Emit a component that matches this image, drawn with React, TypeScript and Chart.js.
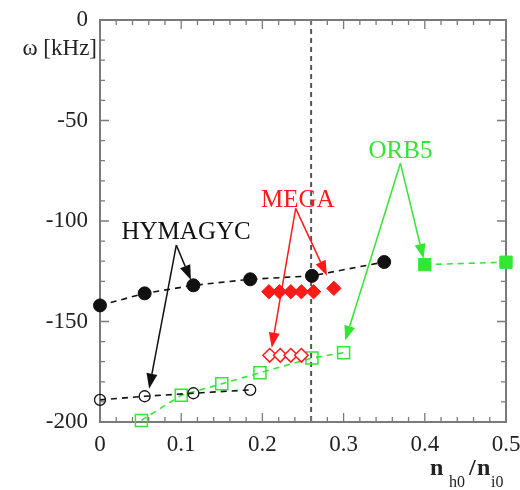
import React, { useEffect, useRef } from "react";
import { Chart, registerables } from "chart.js";

Chart.register(...registerables);

// ---------- data ----------
const xTickValues = [0, 0.1, 0.2, 0.3, 0.4, 0.5];
const yTickValues = [-200, -150, -100, -50, 0];

const hymFilledX = [0, 0.055, 0.115, 0.185, 0.261, 0.35];
const hymFilledY = [-142, -136, -132, -129, -127.3, -120.4];
const hymOpenX = [0, 0.055, 0.115, 0.185];
const hymOpenY = [-189, -187.2, -185.7, -184];

const megaFilledX = [0.208, 0.221, 0.235, 0.248, 0.263, 0.288];
const megaFilledY = [-135.2, -135.2, -135.2, -135.2, -135.2, -133.5];
const megaOpenX = [0.209, 0.222, 0.235, 0.248];
const megaOpenY = [-166.8, -166.8, -166.8, -166.8];

const orbOpenX = [0.051, 0.1, 0.15, 0.197, 0.261, 0.3];
const orbOpenY = [-199.2, -186.7, -181, -175.5, -168.2, -165.5];
const orbFilledX = [0.4, 0.5];
const orbFilledY = [-121.7, -120.5];

const refLineX = 0.26;

const BLACK = "#111111";
const RED = "#ff1a1a";
const GREEN = "#33e633";

const annotations = [
  { label: "HYMAGYC", color: BLACK, tx: 0.106, ty: -105.5, fx: 0.094, fy: -112, tips: [[0.112, -129.4], [0.0605, -183.4]] },
  { label: "MEGA", color: RED, tx: 0.2435, ty: -89.6, fx: 0.241, fy: -93.7, tips: [[0.2115, -163.0], [0.2795, -127.2]] },
  { label: "ORB5", color: GREEN, tx: 0.37, ty: -65.5, fx: 0.37, fy: -71.3, tips: [[0.3985, -118.8], [0.302, -159.5]] },
];

const SERIF = '"Liberation Serif", "Times New Roman", serif';

function pts(xs: number[], ys: number[]) {
  return xs.map((x, i) => ({ x, y: ys[i] }));
}

const overlay = {
  id: "overlay",
  beforeDatasetsDraw(chart: any) {
    const { ctx, chartArea: a, scales } = chart;
    const xs = scales.x;
    const ys = scales.y;
    ctx.save();
    // reference dashed line
    const vx = xs.getPixelForValue(refLineX);
    ctx.strokeStyle = "#555";
    ctx.lineWidth = 2;
    ctx.setLineDash([5, 4]);
    ctx.beginPath();
    ctx.moveTo(vx, a.top);
    ctx.lineTo(vx, a.bottom);
    ctx.stroke();
    ctx.setLineDash([]);

    // inward ticks
    ctx.strokeStyle = "#7a7a7a";
    ctx.lineWidth = 1.3;
    ctx.beginPath();
    for (let i = 0; i <= 25; i++) {
      const v = i * 0.02;
      const p = xs.getPixelForValue(v);
      const len = i % 5 === 0 ? 9 : 5;
      ctx.moveTo(p, a.bottom);
      ctx.lineTo(p, a.bottom - len);
      ctx.moveTo(p, a.top);
      ctx.lineTo(p, a.top + len);
    }
    for (let i = 0; i <= 20; i++) {
      const v = -200 + i * 10;
      const p = ys.getPixelForValue(v);
      const len = i % 5 === 0 ? 9 : 5;
      ctx.moveTo(a.left, p);
      ctx.lineTo(a.left + len, p);
      ctx.moveTo(a.right, p);
      ctx.lineTo(a.right - len, p);
    }
    ctx.stroke();

    // frame
    ctx.strokeStyle = "#7a7a7a";
    ctx.lineWidth = 2;
    ctx.strokeRect(a.left, a.top, a.right - a.left, a.bottom - a.top);
    ctx.restore();
  },
  afterDatasetsDraw(chart: any) {
    const { ctx, scales } = chart;
    const xs = scales.x;
    const ys = scales.y;
    ctx.save();
    for (const an of annotations) {
      const fx = xs.getPixelForValue(an.fx);
      const fy = ys.getPixelForValue(an.fy);
      ctx.strokeStyle = an.color;
      ctx.fillStyle = an.color;
      ctx.lineWidth = 1.5;
      for (const t of an.tips) {
        const tx = xs.getPixelForValue(t[0]);
        const ty = ys.getPixelForValue(t[1]);
        const ang = Math.atan2(ty - fy, tx - fx);
        const L = 15;
        const W = 5.5;
        const bx = tx - L * Math.cos(ang);
        const by = ty - L * Math.sin(ang);
        ctx.beginPath();
        ctx.moveTo(fx, fy);
        ctx.lineTo(bx, by);
        ctx.stroke();
        ctx.beginPath();
        ctx.moveTo(tx, ty);
        ctx.lineTo(bx + W * Math.sin(ang), by - W * Math.cos(ang));
        ctx.lineTo(bx - W * Math.sin(ang), by + W * Math.cos(ang));
        ctx.closePath();
        ctx.fill();
      }
      ctx.font = `25px ${SERIF}`;
      ctx.textAlign = "center";
      ctx.textBaseline = "middle";
      ctx.fillText(an.label, xs.getPixelForValue(an.tx), ys.getPixelForValue(an.ty));
    }

    // axis titles
    ctx.fillStyle = "#222";
    ctx.font = `23px ${SERIF}`;
    ctx.textAlign = "right";
    ctx.textBaseline = "alphabetic";
    ctx.fillText("\u03c9 [kHz]", 97, 55);

    ctx.textAlign = "left";
    ctx.font = `bold 24px ${SERIF}`;
    ctx.fillText("n", 430, 475);
    ctx.font = `16px ${SERIF}`;
    ctx.fillText("h0", 449, 487);
    ctx.font = `bold 24px ${SERIF}`;
    ctx.fillText("/", 469, 475);
    ctx.fillText("n", 477, 475);
    ctx.font = `16px ${SERIF}`;
    ctx.fillText("i0", 491, 487);
    ctx.restore();
  },
};

export default function App() {
  const ref = useRef<HTMLCanvasElement>(null);
  useEffect(() => {
    document.body.style.margin = "0";
    const canvas = ref.current!;
    const chart = new Chart(canvas, {
      type: "scatter",
      data: {
        datasets: [
          {
            label: "HYMAGYC filled",
            data: pts(hymFilledX, hymFilledY),
            showLine: true,
            borderColor: BLACK,
            backgroundColor: BLACK,
            borderWidth: 1.6,
            borderDash: [6, 5],
            pointRadius: 6.5,
            pointStyle: "circle",
            pointBackgroundColor: BLACK,
            pointBorderColor: BLACK,
            pointBorderWidth: 1,
            clip: false,
          } as any,
          {
            label: "HYMAGYC open",
            data: pts(hymOpenX, hymOpenY),
            showLine: true,
            borderColor: BLACK,
            backgroundColor: "#ffffff",
            borderWidth: 1.6,
            borderDash: [6, 5],
            pointRadius: 5.5,
            pointStyle: "circle",
            pointBackgroundColor: "rgba(255,255,255,0)",
            pointBorderColor: BLACK,
            pointBorderWidth: 1.3,
            clip: false,
          } as any,
          {
            label: "MEGA filled",
            data: pts(megaFilledX, megaFilledY),
            showLine: false,
            pointRadius: 7.2,
            pointStyle: "rectRot",
            pointBackgroundColor: RED,
            pointBorderColor: RED,
            pointBorderWidth: 1,
            clip: false,
          } as any,
          {
            label: "MEGA open",
            data: pts(megaOpenX, megaOpenY),
            showLine: false,
            pointRadius: 6.8,
            pointStyle: "rectRot",
            pointBackgroundColor: "#ffffff",
            pointBorderColor: RED,
            pointBorderWidth: 1.5,
            clip: false,
          } as any,
          {
            label: "ORB5 open",
            data: pts(orbOpenX, orbOpenY),
            showLine: true,
            borderColor: GREEN,
            borderWidth: 1.6,
            borderDash: [6, 5],
            pointRadius: 8.5,
            pointStyle: "rect",
            pointBackgroundColor: "rgba(255,255,255,0)",
            pointBorderColor: GREEN,
            pointBorderWidth: 1.5,
            clip: false,
          } as any,
          {
            label: "ORB5 filled",
            data: pts(orbFilledX, orbFilledY),
            showLine: true,
            borderColor: GREEN,
            borderWidth: 1.6,
            borderDash: [6, 5],
            pointRadius: 8.7,
            pointStyle: "rect",
            pointBackgroundColor: GREEN,
            pointBorderColor: GREEN,
            pointBorderWidth: 1,
            clip: false,
          } as any,
        ],
      },
      options: {
        responsive: false,
        animation: false,
        devicePixelRatio: 1,
        layout: { padding: { left: 0, top: 20, right: 14, bottom: 0 } },
        plugins: { legend: { display: false }, tooltip: { enabled: false } },
        scales: {
          x: {
            type: "linear",
            min: 0,
            max: 0.5,
            afterBuildTicks: (s: any) => {
              s.ticks = xTickValues.map((v) => ({ value: v }));
            },
            afterFit: (s: any) => {
              s.height = 68;
              s.paddingLeft = 0;
              s.paddingRight = 0;
            },
            grid: { display: false, drawTicks: false },
            border: { display: false },
            ticks: {
              padding: 9,
              color: "#222",
              font: { family: SERIF, size: 23 },
              maxRotation: 0,
              callback: (v: any) => String(Math.round(Number(v) * 10) / 10),
            },
          },
          y: {
            type: "linear",
            min: -200,
            max: 0,
            afterBuildTicks: (s: any) => {
              s.ticks = yTickValues.map((v) => ({ value: v }));
            },
            afterFit: (s: any) => {
              s.width = 100;
              s.paddingTop = 0;
              s.paddingBottom = 0;
            },
            grid: { display: false, drawTicks: false },
            border: { display: false },
            ticks: {
              padding: 12,
              color: "#222",
              font: { family: SERIF, size: 23 },
              callback: (v: any) => String(v),
            },
          },
        },
      },
      plugins: [overlay],
    } as any);
    return () => chart.destroy();
  }, []);
  return (
    <div style={{ width: 520, height: 490, background: "#fff" }}>
      <canvas ref={ref} width={520} height={490} style={{ display: "block" }} />
    </div>
  );
}
